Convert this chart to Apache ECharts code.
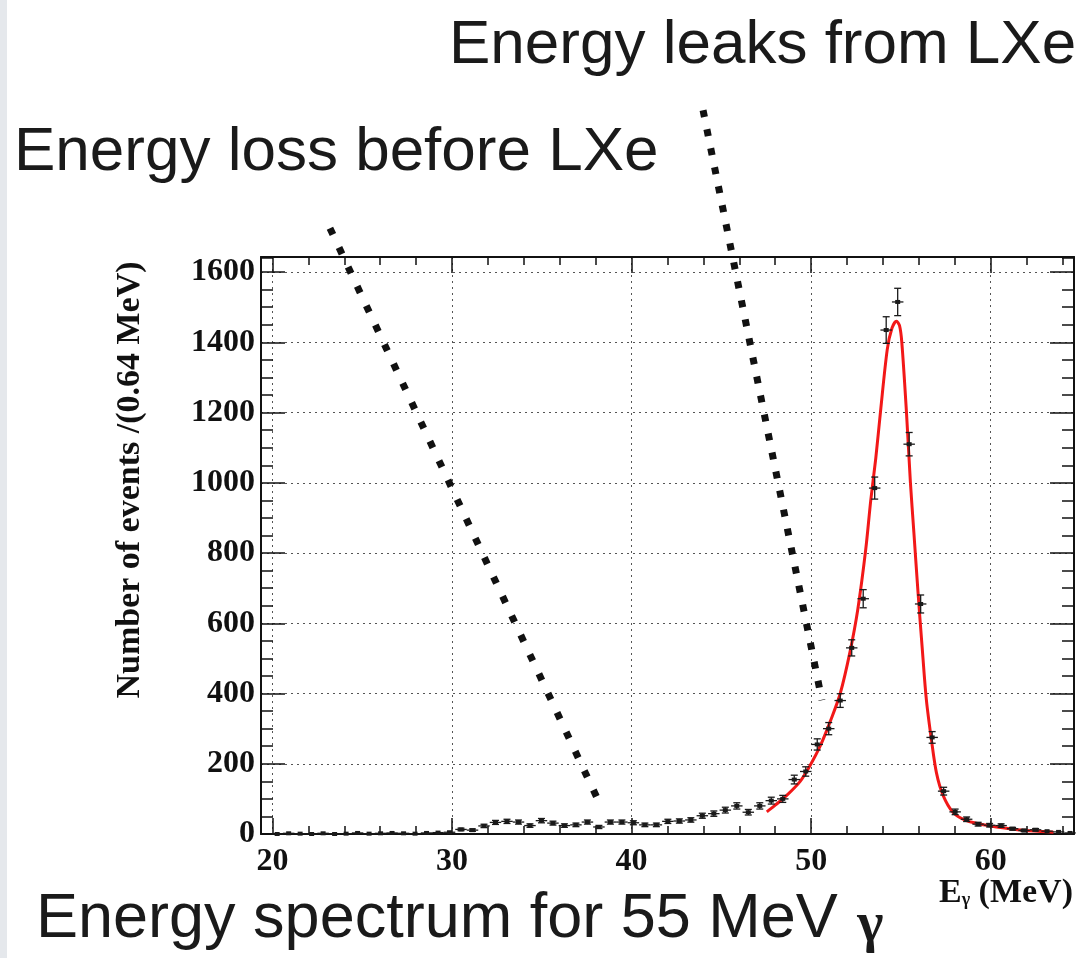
<!DOCTYPE html>
<html><head><meta charset="utf-8">
<script src="https://cdn.jsdelivr.net/npm/echarts@6/dist/echarts.min.js"></script>
<style>html,body{margin:0;padding:0;background:#fff}#c{width:1083px;height:958px}</style>
</head><body><div id="c"></div>
<script>
// ---- data ----
const binCenters = [20.26, 20.90, 21.54, 22.18, 22.82, 23.46, 24.10, 24.74, 25.38, 26.02, 26.66, 27.30, 27.94, 28.58, 29.22, 29.86,
  30.50, 31.14, 31.78, 32.42, 33.06, 33.70, 34.34, 34.98, 35.62, 36.26, 36.90, 37.54, 38.18, 38.82, 39.46, 40.10,
  40.74, 41.38, 42.02, 42.66, 43.30, 43.94, 44.58, 45.22, 45.86, 46.50, 47.14, 47.78, 48.42, 49.06, 49.70, 50.34,
  50.98, 51.62, 52.26, 52.90, 53.54, 54.18, 54.82, 55.46, 56.10, 56.74, 57.38, 58.02, 58.66, 59.30, 59.94, 60.58,
  61.22, 61.86, 62.50, 63.14, 63.78, 64.42];
const counts = [0, 2, 1, 0, 2, 0, 1, 3, 1, 2, 3, 2, 1, 3, 4, 5,
  13, 11, 23, 33, 36, 34, 24, 38, 31, 24, 26, 34, 20, 34, 34, 32,
  26, 26, 36, 37, 40, 52, 58, 68, 80, 62, 80, 95, 100, 155, 178, 255,
  300, 380, 530, 670, 985, 1435, 1515, 1110, 655, 275, 122, 63, 42, 28, 25, 24,
  15, 10, 12, 8, 6, 3];
const fitX = [47.53, 48.0, 48.64, 49.39, 49.94, 50.5, 51.06, 51.62, 52.17, 52.6, 53.04, 53.32, 53.6, 53.87, 54.24, 54.5,
  54.75, 54.92, 55.05, 55.31, 55.53, 55.72, 55.95, 56.2, 56.42, 56.70, 56.98, 57.35, 57.9, 58.65, 59.76, 61.06, 62.0, 62.9, 63.5];
const fitY = [63, 82, 110, 150, 195, 250, 320, 400, 520, 640, 810, 950, 1070, 1206, 1380, 1440,
  1460, 1448, 1400, 1200, 1000, 860, 690, 520, 381, 268, 174, 110, 62, 38, 25, 15, 10, 7, 5];
const xTicks = [20, 30, 40, 50, 60];
const xMinorTicks = [22, 24, 26, 28, 32, 34, 36, 38, 42, 44, 46, 48, 52, 54, 56, 58, 62, 64];
const yTicks = [0, 200, 400, 600, 800, 1000, 1200, 1400, 1600];
const yMinorTicks = [50, 100, 150, 250, 300, 350, 450, 500, 550, 650, 700, 750, 850, 900, 950, 1050, 1100, 1150, 1250, 1300, 1350, 1450, 1500, 1550, 1640];
const pointerLoss = [[23.20, 1725], [38.13, 97]];
const pointerLeak = [[43.98, 2061], [50.60, 381]];
const binHalfWidth = 0.32;

// ---- chart ----
const X_MIN = 19.36, X_MAX = 64.64, Y_MIN = 0, Y_MAX = 1643;
const serif = '"Liberation Serif","Times New Roman",serif';
const sans = '"Liberation Sans",Arial,Helvetica,sans-serif';
const ink = '#111';
const gridLine = {show: true, lineStyle: {color: '#555', width: 1, type: [2, 4]}};
const plain = v => String(v);

function xAxisDef(pos, ticks, len, main) {
  return {
    type: 'value', position: pos, min: X_MIN, max: X_MAX, gridIndex: 0,
    axisLine: {show: main, onZero: false, lineStyle: {color: ink, width: 2}},
    axisTick: {show: true, inside: true, length: len, customValues: ticks, lineStyle: {color: ink, width: 1.5}},
    axisLabel: (main && pos === 'bottom') ? {show: true, customValues: xTicks, formatter: plain, margin: 12, fontFamily: serif, fontWeight: 'bold', fontSize: 32, color: ink} : {show: false},
    splitLine: (main && pos === 'bottom') ? gridLine : {show: false}
  };
}
function yAxisDef(pos, ticks, len, main) {
  return {
    type: 'value', position: pos, min: Y_MIN, max: Y_MAX, interval: 200, gridIndex: 0,
    axisLine: {show: main, onZero: false, lineStyle: {color: ink, width: 2}},
    axisTick: {show: true, inside: true, length: len, customValues: ticks, lineStyle: {color: ink, width: 1.5}},
    axisLabel: (main && pos === 'left') ? {show: true, customValues: yTicks, formatter: plain, margin: 6, fontFamily: serif, fontWeight: 'bold', fontSize: 32, color: ink} : {show: false},
    splitLine: (main && pos === 'left') ? gridLine : {show: false}
  };
}

const chart = echarts.init(document.getElementById('c'), null, {renderer: 'canvas'});
chart.setOption({
  animation: false,
  backgroundColor: '#fff',
  grid: {left: 261, right: 9, top: 257, bottom: 124, containLabel: false},
  xAxis: [
    xAxisDef('bottom', xTicks, 16, true),
    xAxisDef('bottom', xMinorTicks, 8, false),
    xAxisDef('top', xTicks, 16, true),
    xAxisDef('top', xMinorTicks, 8, false)
  ],
  yAxis: [
    yAxisDef('left', yTicks, 24, true),
    yAxisDef('left', yMinorTicks, 12, false),
    yAxisDef('right', yTicks, 24, true),
    yAxisDef('right', yMinorTicks, 12, false)
  ],
  series: [
    {
      type: 'line', name: 'fit', xAxisIndex: 0, yAxisIndex: 0,
      data: fitX.map((x, i) => [x, fitY[i]]),
      showSymbol: false, smooth: 0.3, z: 3,
      lineStyle: {color: '#f21818', width: 3}
    },
    {
      type: 'custom', name: 'data', xAxisIndex: 0, yAxisIndex: 0, z: 4,
      data: binCenters.map((x, i) => [x, counts[i]]),
      encode: {x: 0, y: 1},
      renderItem: function (params, api) {
        const x = api.value(0), y = api.value(1);
        const err = Math.sqrt(y);
        const pl = api.coord([x - binHalfWidth, y]);
        const pr = api.coord([x + binHalfWidth, y]);
        const pt = api.coord([x, y + err]);
        const pb = api.coord([x, y - err]);
        const p = api.coord([x, y]);
        const st = {stroke: '#1a1a1a', lineWidth: 1.3};
        const children = [
          {type: 'line', shape: {x1: pl[0], y1: pl[1], x2: pr[0], y2: pr[1]}, style: st},
          {type: 'line', shape: {x1: pt[0], y1: pt[1], x2: pb[0], y2: pb[1]}, style: st}
        ];
        if (err > 3) {
          children.push({type: 'line', shape: {x1: pt[0] - 3.5, y1: pt[1], x2: pt[0] + 3.5, y2: pt[1]}, style: st});
          children.push({type: 'line', shape: {x1: pb[0] - 3.5, y1: pb[1], x2: pb[0] + 3.5, y2: pb[1]}, style: st});
        }
        children.push({type: 'rect', shape: {x: p[0] - 2.5, y: p[1] - 2, width: 5, height: 4}, style: {fill: '#1a1a1a'}});
        return {type: 'group', children: children};
      }
    },
    {
      type: 'line', name: 'pointer loss', data: pointerLoss, clip: false, silent: true, z: 5,
      symbol: 'none', lineStyle: {color: ink, width: 7, type: [7, 14.4], cap: 'butt'}
    },
    {
      type: 'line', name: 'pointer leak', data: pointerLeak, clip: false, silent: true, z: 5,
      symbol: 'none', lineStyle: {color: ink, width: 7, type: [7, 12.4], cap: 'butt'}
    }
  ],
  graphic: [
    {type: 'rect', x: 0, y: 0, shape: {x: 0, y: 0, width: 7, height: 958}, style: {fill: '#e5e8ec'}, silent: true},
    {type: 'text', x: 449, y: 46, style: {text: 'Energy leaks from LXe', fontFamily: sans, fontSize: 62, fill: '#1a1a1a', align: 'left', verticalAlign: 'middle'}},
    {type: 'text', x: 14, y: 153, style: {text: 'Energy loss before LXe', fontFamily: sans, fontSize: 62, fill: '#1a1a1a', align: 'left', verticalAlign: 'middle'}},
    {type: 'text', x: 36, y: 920, style: {
      text: '{a|Energy spectrum for 55 MeV }{g|γ}', align: 'left', verticalAlign: 'middle',
      rich: {
        a: {fontFamily: sans, fontSize: 63, fill: '#1a1a1a'},
        g: {fontFamily: serif, fontWeight: 'bold', fontSize: 56, fill: '#1a1a1a', padding: [14, 0, 0, 2]}
      }
    }},
    {type: 'text', x: 130, y: 480, rotation: Math.PI / 2, style: {
      text: 'Number of events /(0.64 MeV)', fontFamily: serif, fontWeight: 'bold', fontSize: 34, fill: ink, align: 'center', verticalAlign: 'middle'
    }},
    {type: 'text', x: 1073, y: 893, style: {
      text: '{e|E}{g|γ}{e| (MeV)}', align: 'right', verticalAlign: 'middle',
      rich: {
        e: {fontFamily: serif, fontWeight: 'bold', fontSize: 34, fill: ink},
        g: {fontFamily: serif, fontWeight: 'bold', fontSize: 18, fill: ink, padding: [14, 0, 0, 0]}
      }
    }}
  ]
});
</script>
</body></html>
